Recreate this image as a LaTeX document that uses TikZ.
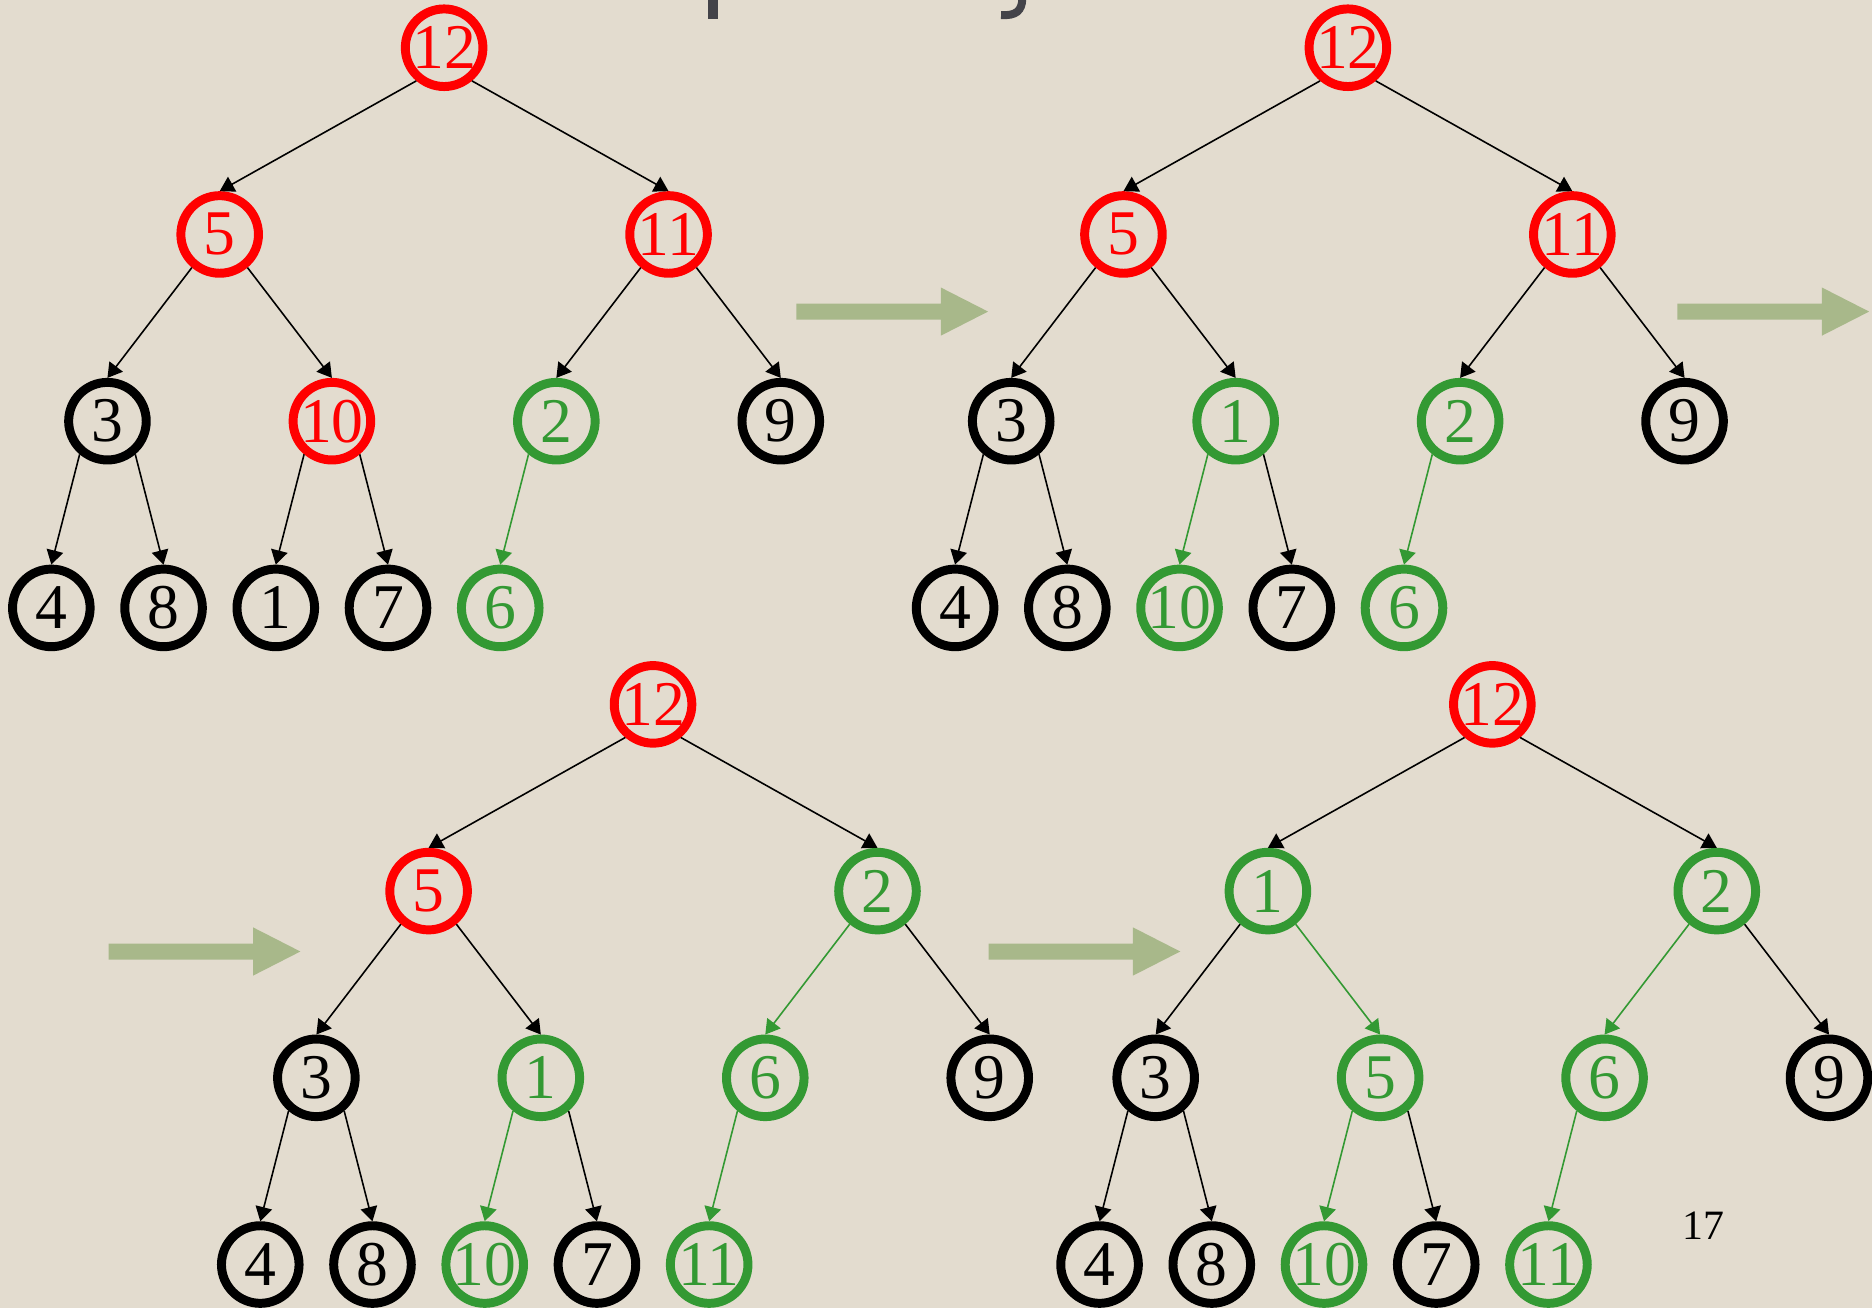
\documentclass[tikz,border=0pt]{standalone}
\usepackage{fontspec}
\setmainfont{Liberation Serif}
\usepackage{tikz}
\usetikzlibrary{arrows.meta}
\definecolor{SlideBg}{HTML}{E3DCCF}
\definecolor{HeapRed}{HTML}{FF0000}
\definecolor{HeapGreen}{HTML}{339933}
\definecolor{StepGreen}{HTML}{A8B88A}
\definecolor{TitleGrey}{HTML}{434349}

% one heap: name, root x, root y, list index/value/node colour/edge colour
\newcommand\heaptree[4]{%
  \foreach \i/\v/\nc/\ec in {#4} {
    \pgfmathtruncatemacro\lv{\i<2 ? 0 : (\i<4 ? 1 : (\i<8 ? 2 : 3))}
    \pgfmathsetmacro\xx{#2+(\i-1.5*2^\lv+0.5)*752/2^\lv}
    \pgfmathsetmacro\yy{#3+\lv*156.4}
    \node[heapnode,draw=\nc,text=\nc] (#1\i) at (\xx,\yy) {\v};
    \ifnum\i>1
      \pgfmathtruncatemacro\pa{div(\i,2)}
      \pgfmathtruncatemacro\side{isodd(\i) ? -50 : -130}
      \draw[treeedge,\ec] (#1\pa.\side) -- (#1\i.north);
    \fi
  }}

\begin{document}
\begin{tikzpicture}[x=0.3pt,y=-0.3pt]
  \tikzstyle{heapnode}=[circle,minimum size=19.5pt,inner sep=0pt,
    line width=2.25pt,font=\fontsize{16}{16}\selectfont]
  \tikzstyle{treeedge}=[line width=0.4pt,-{Triangle[length=3.6pt,width=4.2pt]}]
  \tikzstyle{steparrow}=[fill=StepGreen]
  \fill[SlideBg] (0,0) rectangle (1568,1096);
  \useasboundingbox (0,0) rectangle (1568,1096);
  % bits of the slide title
  \fill[TitleGrey] (593.3,0) rectangle (601.6,16);
  \draw[TitleGrey,line width=2pt] (856.3,-1) .. controls (856,9) and (851,13.5) .. (838.5,12.6);
  % the four heaps
  \heaptree{A}{372}{40}{1/12/HeapRed/black,2/5/HeapRed/black,3/11/HeapRed/black,
    4/3/black/black,5/10/HeapRed/black,6/2/HeapGreen/black,7/9/black/black,
    8/4/black/black,9/8/black/black,10/1/black/black,11/7/black/black,
    12/6/HeapGreen/HeapGreen}
  \heaptree{B}{1129}{40}{1/12/HeapRed/black,2/5/HeapRed/black,3/11/HeapRed/black,
    4/3/black/black,5/1/HeapGreen/black,6/2/HeapGreen/black,7/9/black/black,
    8/4/black/black,9/8/black/black,10/10/HeapGreen/HeapGreen,11/7/black/black,
    12/6/HeapGreen/HeapGreen}
  \heaptree{C}{547}{590}{1/12/HeapRed/black,2/5/HeapRed/black,3/2/HeapGreen/black,
    4/3/black/black,5/1/HeapGreen/black,6/6/HeapGreen/HeapGreen,7/9/black/black,
    8/4/black/black,9/8/black/black,10/10/HeapGreen/HeapGreen,11/7/black/black,
    12/11/HeapGreen/HeapGreen}
  \heaptree{D}{1250}{590}{1/12/HeapRed/black,2/1/HeapGreen/black,3/2/HeapGreen/black,
    4/3/black/black,5/5/HeapGreen/HeapGreen,6/6/HeapGreen/HeapGreen,7/9/black/black,
    8/4/black/black,9/8/black/black,10/10/HeapGreen/HeapGreen,11/7/black/black,
    12/11/HeapGreen/HeapGreen}
  % step arrows
  \foreach \ax/\ay in {667/261,1405/261,91/797,828/797}
    \fill[steparrow] (\ax,\ay-6.7) -- ++(121,0) -- ++(0,-13.5) -- (\ax+160.6,\ay)
      -- (\ax+121,\ay+20.2) -- ++(0,-13.5) -- (\ax,\ay+6.7) -- cycle;
  \node[font=\fontsize{10.5}{12}\selectfont] (pagenum) at (1427,1027) {17};
\end{tikzpicture}
\end{document}
